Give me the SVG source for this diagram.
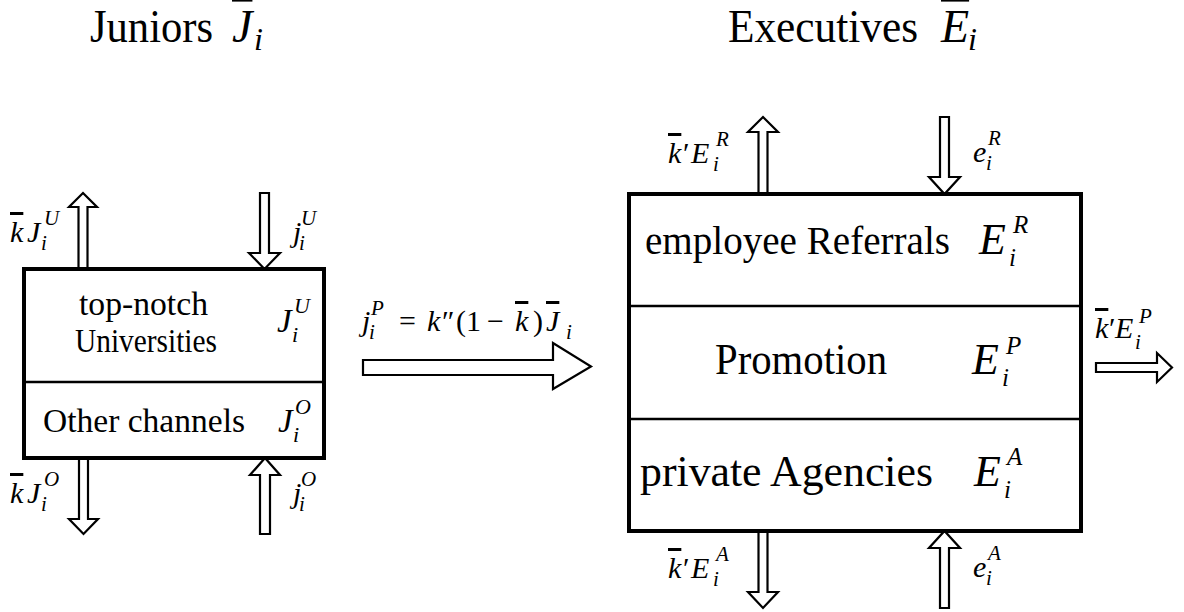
<svg xmlns="http://www.w3.org/2000/svg" width="1184" height="612" viewBox="0 0 1184 612">
  <style>
    text { font-family: "Liberation Serif", "DejaVu Serif", serif; fill: #000; }
    .title { font-size: 46px; }
    .lbl { font-size: 33px; }
    .lblR { font-size: 44px; }
    .m { font-style: italic; }
    .bar { text-decoration: overline; }
    .flow { fill: #fff; stroke: #000; stroke-width: 2.2; stroke-linejoin: miter; }
    .box { fill: #fff; stroke: #000; stroke-width: 4; }
    .div { stroke: #000; stroke-width: 2.5; }
    .s30 { font-size: 30px; }
    .s21 { font-size: 21px; }
    .s22 { font-size: 22px; }
    .s25 { font-size: 25px; }
    .s32 { font-size: 32px; }
  </style>

  <!-- headings -->
  <g id="heading-juniors">
    <text class="title" x="90" y="42" textLength="123" lengthAdjust="spacingAndGlyphs">Juniors</text>
    <text class="title m bar" x="232" y="42">J</text>
    <text class="s32 m" x="254" y="50">i</text>
  </g>
  <g id="heading-executives">
    <text class="title" x="728" y="42" textLength="190" lengthAdjust="spacingAndGlyphs">Executives</text>
    <text class="title m bar" x="941" y="42">E</text>
    <text class="s32 m" x="968" y="50">i</text>
  </g>

  <!-- flows in and out of the pools -->
  <g id="connectors">
    <!-- juniors: top -->
    <polygon class="flow" points="78.5,269 78.5,207 69,207 83,193 97,207 87.5,207 87.5,269"/>
    <polygon class="flow" points="260,193 269,193 269,253 280,253 264.5,269 249,253 260,253"/>
    <!-- juniors: bottom -->
    <polygon class="flow" points="79,458 79,519 69,519 83.5,534 98,519 88,519 88,458"/>
    <polygon class="flow" points="260,534 260,475 250,475 265,458 280,475 270,475 270,534"/>
    <!-- promotion flow juniors -> executives -->
    <polygon class="flow" points="363,360 553,360 553,343 591,366.5 553,389 553,375 363,375"/>
    <!-- executives: top -->
    <polygon class="flow" points="758.5,194 758.5,132 748,132 763,117 778,132 767.5,132 767.5,194"/>
    <polygon class="flow" points="940,117 949,117 949,177 960,177 944.5,194 929,177 940,177"/>
    <!-- executives: bottom -->
    <polygon class="flow" points="758.5,531 758.5,592 748,592 763,608 778,592 767.5,592 767.5,531"/>
    <polygon class="flow" points="940,608 940,548 929,548 944.5,531 960,548 949,548 949,608"/>
    <!-- executives: exit -->
    <polygon class="flow" points="1096,363 1157,363 1157,353 1172,367.5 1157,382 1157,372 1096,372"/>
  </g>

  <!-- juniors pool -->
  <g id="juniors-box">
    <rect class="box" x="24" y="269" width="300" height="189"/>
    <line class="div" x1="24" y1="382" x2="324" y2="382"/>
    <text class="lbl" x="79" y="315" textLength="129" lengthAdjust="spacingAndGlyphs">top-notch</text>
    <text class="lbl" x="75" y="352" textLength="142" lengthAdjust="spacingAndGlyphs">Universities</text>
    <text class="lbl m" x="277" y="332">J</text>
    <text class="s22 m" x="294" y="313">U</text>
    <text class="s22 m" x="292" y="342">i</text>
    <text class="lbl" x="43" y="432" textLength="202" lengthAdjust="spacingAndGlyphs">Other channels</text>
    <text class="lbl m" x="278" y="432">J</text>
    <text class="s22 m" x="295" y="414">O</text>
    <text class="s22 m" x="293" y="442">i</text>
  </g>

  <!-- executives pool -->
  <g id="executives-box">
    <rect class="box" x="629" y="194" width="452" height="337"/>
    <line class="div" x1="629" y1="306" x2="1081" y2="306"/>
    <line class="div" x1="629" y1="419" x2="1081" y2="419"/>
    <text class="lblR" x="645" y="254" style="font-size:41px" textLength="305" lengthAdjust="spacingAndGlyphs">employee Referrals</text>
    <text class="lblR m" x="979" y="254">E</text>
    <text class="s25 m" x="1013" y="233">R</text>
    <text class="s25 m" x="1009" y="266">i</text>
    <text class="lblR" x="715" y="374" textLength="172" lengthAdjust="spacingAndGlyphs">Promotion</text>
    <text class="lblR m" x="972" y="374">E</text>
    <text class="s25 m" x="1006" y="354">P</text>
    <text class="s25 m" x="1002" y="386">i</text>
    <text class="lblR" x="640" y="486" textLength="293" lengthAdjust="spacingAndGlyphs">private Agencies</text>
    <text class="lblR m" x="974" y="486">E</text>
    <text class="s25 m" x="1007" y="465">A</text>
    <text class="s25 m" x="1004" y="498">i</text>
  </g>

  <!-- flow labels -->
  <g id="flow-labels">
    <text class="s30"><tspan class="m bar" x="10" y="242">k</tspan><tspan class="m" x="27" y="242">J</tspan></text>
    <text class="s21 m" x="44" y="225">U</text>
    <text class="s21 m" x="41" y="250">i</text>

    <text class="s30 m" x="293" y="242">j</text>
    <text class="s21 m" x="301" y="225">U</text>
    <text class="s21 m" x="299" y="250">i</text>

    <text class="s30"><tspan class="m bar" x="10" y="503">k</tspan><tspan class="m" x="27" y="503">J</tspan></text>
    <text class="s21 m" x="44" y="486">O</text>
    <text class="s21 m" x="41" y="511">i</text>

    <text class="s30 m" x="293" y="503">j</text>
    <text class="s21 m" x="301" y="486">O</text>
    <text class="s21 m" x="299" y="511">i</text>

    <text class="s30"><tspan class="m" x="362" y="331">j</tspan><tspan x="399" y="331">=</tspan><tspan class="m" x="427" y="331">k</tspan><tspan x="442" y="331">″</tspan><tspan x="456" y="331">(1</tspan><tspan x="487" y="331">−</tspan><tspan class="m bar" x="515" y="331">k</tspan><tspan x="533" y="331">)</tspan><tspan class="m bar" x="546" y="331">J</tspan></text>
    <text class="s21 m" x="371" y="315">P</text>
    <text class="s21 m" x="369" y="339">i</text>
    <text class="s21 m" x="566" y="339">i</text>

    <text class="s30"><tspan class="m bar" x="668" y="163">k</tspan><tspan x="683" y="163">′</tspan><tspan class="m" x="691" y="163">E</tspan></text>
    <text class="s21 m" x="716" y="146">R</text>
    <text class="s21 m" x="713" y="171">i</text>

    <text class="s30 m" x="973" y="162">e</text>
    <text class="s21 m" x="988" y="145">R</text>
    <text class="s21 m" x="986" y="170">i</text>

    <text class="s30"><tspan class="m bar" x="668" y="578">k</tspan><tspan x="683" y="578">′</tspan><tspan class="m" x="691" y="578">E</tspan></text>
    <text class="s21 m" x="716" y="561">A</text>
    <text class="s21 m" x="713" y="586">i</text>

    <text class="s30 m" x="973" y="577">e</text>
    <text class="s21 m" x="988" y="560">A</text>
    <text class="s21 m" x="986" y="585">i</text>

    <text class="s30"><tspan class="m bar" x="1095" y="338">k</tspan><tspan x="1109" y="338">′</tspan><tspan class="m" x="1115" y="338">E</tspan></text>
    <text class="s21 m" x="1139" y="323">P</text>
    <text class="s21 m" x="1135" y="349">i</text>
  </g>
</svg>
